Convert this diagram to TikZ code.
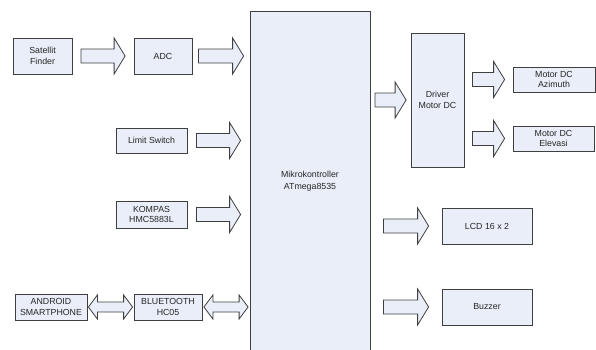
\documentclass[tikz,border=0pt]{standalone}
\usepackage{fontspec}
\setmainfont{Liberation Sans}
\usetikzlibrary{calc}
\definecolor{boxfill}{HTML}{E9EEF8}
\definecolor{boxline}{HTML}{3F3F3F}
\definecolor{boxtext}{HTML}{262626}
\tikzset {
  x=1pt, y=-1pt,
  % block style
  blok/.style = {draw=boxline, fill=boxfill, line width=0.8pt, inner sep=0pt,
    align=center, text=boxtext, font=\fontsize{8.8}{10.5}\selectfont},
  % hollow block arrows
  panah/.style = {draw=boxline, fill=boxfill, line width=0.8pt, line join=miter},
}
% single block arrow: from node, to node, gap, node that gives the height
\newcommand{\barrow}[4]{%
  \draw[panah] let \p1=(#1.east), \p2=(#2.west), \p3=(#4.center) in
    (\x1+#3pt,\y3+7pt) -- (\x2-#3pt-11pt,\y3+7pt) -- (\x2-#3pt-11pt,\y3+18pt)
    -- (\x2-#3pt,\y3) -- (\x2-#3pt-11pt,\y3-18pt) -- (\x2-#3pt-11pt,\y3-7pt)
    -- (\x1+#3pt,\y3-7pt) -- cycle;}
% double block arrow
\newcommand{\dbarrow}[4]{%
  \draw[panah] let \p1=(#1.east), \p2=(#2.west), \p3=(#4.center) in
    (\x1+#3pt,\y3) -- (\x1+#3pt+9pt,\y3+12pt) -- (\x1+#3pt+9pt,\y3+5pt)
    -- (\x2-#3pt-9pt,\y3+5pt) -- (\x2-#3pt-9pt,\y3+12pt) -- (\x2-#3pt,\y3)
    -- (\x2-#3pt-9pt,\y3-12pt) -- (\x2-#3pt-9pt,\y3-5pt)
    -- (\x1+#3pt+9pt,\y3-5pt) -- (\x1+#3pt+9pt,\y3-12pt) -- cycle;}

\begin{document}
\begin{tikzpicture}
        \useasboundingbox (0,0) rectangle (596,349);
        \clip (0,0) rectangle (596,349);

        % inputs
        \node[blok, minimum width=59, minimum height=36] (sat) at (42.5,56) {Satellit\\Finder};
        \node[blok, minimum width=58, minimum height=36] (adc) at (163,56) {ADC};
        \node[blok, minimum width=71, minimum height=25] (limit) at (151.5,140.5) {Limit Switch};
        \node[blok, minimum width=71, minimum height=27] (kompas) at (151.5,214.5) {KOMPAS\\HMC5883L};
        \node[blok, minimum width=72, minimum height=26] (android) at (51,307) {ANDROID\\SMARTPHONE};
        \node[blok, minimum width=68, minimum height=26] (bt) at (168,307) {BLUETOOTH\\HC05};

        % controller
        \node[blok, minimum width=120, minimum height=340,
          font=\fontsize{8.8}{12}\selectfont] (mikro) at (310,181) {Mikrokontroller\\ATmega8535};

        % outputs
        \node[blok, minimum width=53, minimum height=134] (driver) at (437.5,100) {Driver\\Motor DC};
        \node[blok, minimum width=82, minimum height=25] (azimuth) at (554,79.5) {Motor DC\\Azimuth};
        \node[blok, minimum width=81, minimum height=25] (elevasi) at (553.5,138.5) {Motor DC\\Elevasi};
        \node[blok, minimum width=90, minimum height=36] (lcd) at (487,226) {LCD 16 x 2};
        \node[blok, minimum width=90, minimum height=36] (buzzer) at (487,307) {Buzzer};

        \barrow{sat}{adc}{8.5}{sat}
        \barrow{adc}{mikro}{6}{adc}
        \barrow{limit}{mikro}{9}{limit}
        \barrow{kompas}{mikro}{9}{kompas}
        \dbarrow{android}{bt}{1}{android}
        \dbarrow{bt}{mikro}{1.5}{bt}

        \barrow{mikro}{driver}{4.5}{driver}
        \barrow{driver}{azimuth}{8}{azimuth}
        \barrow{driver}{elevasi}{8}{elevasi}
        \barrow{mikro}{lcd}{13}{lcd}
        \barrow{mikro}{buzzer}{13}{buzzer}
      \end{tikzpicture}
\end{document}
